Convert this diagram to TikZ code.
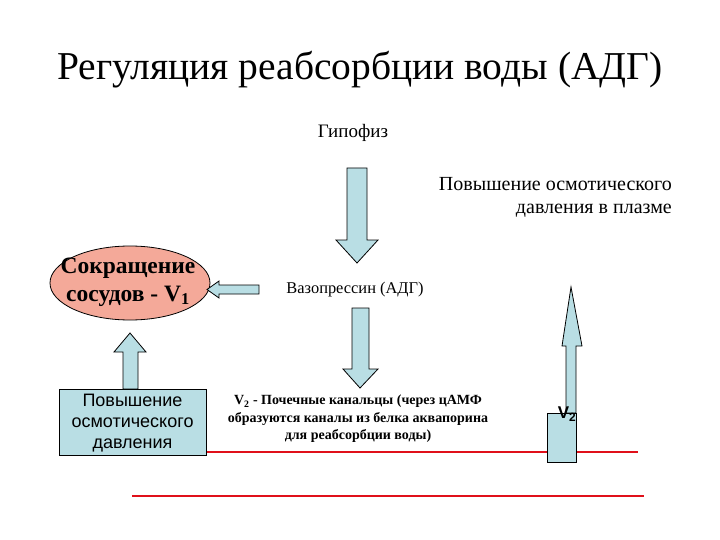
\documentclass[tikz,border=0pt]{standalone}
\usepackage{fontspec}
\setmainfont{Liberation Serif}
\newfontfamily\arialf{Liberation Sans}
\usetikzlibrary{shapes.geometric}
\definecolor{arrowblue}{HTML}{B9DEE4}
\definecolor{salmon}{HTML}{F4A999}
\definecolor{redline}{HTML}{E0101A}
\tikzset{
  blockarrow/.style={draw=black, fill=arrowblue, line width=0.8pt, line join=miter},
  redrule/.style={draw=redline, line width=2.8pt},
  txt/.style={inner sep=0pt, align=center}
}
\begin{document}
\begin{tikzpicture}[x=1pt,y=-1pt]
\useasboundingbox (0,0) rectangle (720,540);
% title
\node[txt, font=\fontsize{39.5}{44}\selectfont] (title) at (360,70) {Регуляция реабсорбции воды (АДГ)};
\node[txt, font=\fontsize{19}{22}\selectfont] (hyp) at (353,133) {Гипофиз};
\node[txt, align=right, anchor=east, font=\fontsize{20}{23}\selectfont] (plasma) at (672,197) {Повышение осмотического\\давления в плазме};
% arrow 1 down
\draw[blockarrow] (347,168) -- (367,168) -- (367,240) -- (378,240) -- (357,263) -- (336,240) -- (347,240) -- cycle;
% ellipse
\node[draw=black, fill=salmon, ellipse, minimum width=160pt, minimum height=74pt, inner sep=0pt, line width=0.8pt] (vaso) at (130,283) {};
\node[txt, font=\bfseries\fontsize{23.5}{28}\selectfont] (vasotxt) at (128,282) {Сокращение\\сосудов - V\textsubscript{1}};
% left arrow
\draw[blockarrow] (259,285) -- (219,285) -- (219,281) -- (207,289.5) -- (219,298) -- (219,294) -- (259,294) -- cycle;
\node[txt, font=\fontsize{16.4}{19}\selectfont] (adh) at (355,290) {Вазопрессин (АДГ)};
% arrow 2 down
\draw[blockarrow] (352,308) -- (369,308) -- (369,369) -- (378,369) -- (360,388) -- (343,369) -- (352,369) -- cycle;
\node[txt, font=\bfseries\fontsize{14}{17.5}\selectfont] (v2txt) at (358,419) {V\textsubscript{2} - Почечные канальцы (через цАМФ\\образуются каналы из белка аквапорина\\для реабсорбции воды)};
% red lines
\draw[redrule] (206,452) -- (638,452);
\draw[redrule] (132,496) -- (644,496);
% up arrow from box
\draw[blockarrow] (123,389) -- (123,352) -- (114,352) -- (130,333) -- (146,352) -- (138,352) -- (138,389) -- cycle;
% box
\node[draw=black, fill=arrowblue, minimum width=147pt, minimum height=66pt, inner sep=0pt, line width=0.8pt] (osm) at (132.5,422) {};
\node[txt, font=\arialf\fontsize{18}{21}\selectfont] (osmtxt) at (132.5,423) {Повышение\\осмотического\\давления};
% V2 arrow and box
\draw[blockarrow] (566,413) -- (566,346) -- (562,346) -- (571,287) -- (582,346) -- (576,346) -- (576,413) -- cycle;
\node[draw=black, fill=arrowblue, minimum width=29pt, minimum height=49pt, inner sep=0pt, line width=0.8pt] (v2box) at (561.5,437.5) {};
\node[txt, font=\arialf\bfseries\fontsize{17}{20}\selectfont] (v2lab) at (567,414) {V\textsubscript{2}};
\end{tikzpicture}
\end{document}
